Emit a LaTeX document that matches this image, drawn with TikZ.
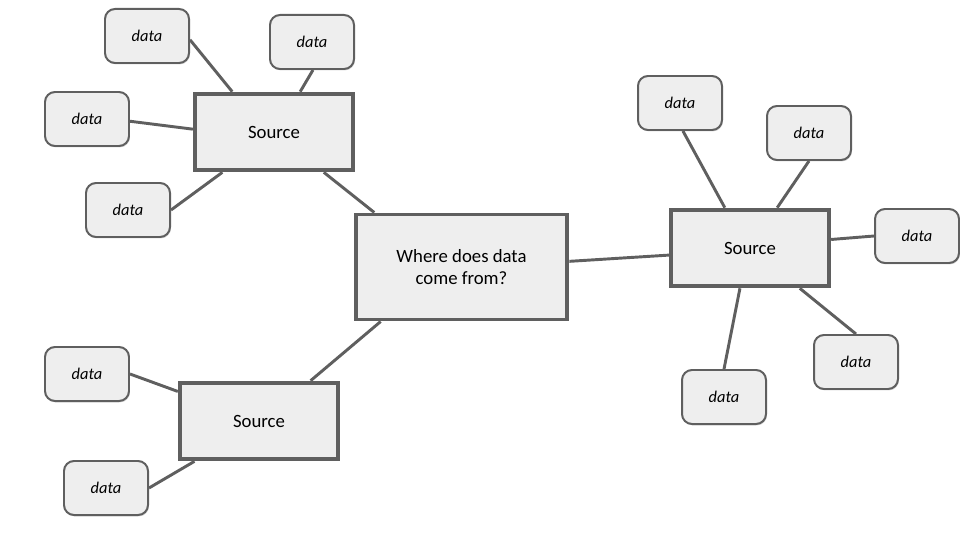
\documentclass[tikz,border=0pt]{standalone}
\usepackage{fontspec}
\setmainfont{Carlito}
\usetikzlibrary{shadows}
\definecolor{boxfill}{HTML}{EEEEEE}
\definecolor{boxline}{HTML}{5F5F5F}
\tikzset{
  src/.style={draw=boxline, fill=boxfill, line width=3.4pt, minimum width=4.75cm, minimum height=2.3cm,
    inner sep=0pt, align=center, font=\fontsize{16}{19}\selectfont,
    drop shadow={shadow xshift=0.8pt, shadow yshift=-1.2pt, opacity=0.3}},
  dat/.style={draw=boxline, fill=boxfill, line width=1.7pt, rounded corners=0.3cm, minimum width=2.52cm,
    minimum height=1.62cm, inner sep=0pt, font=\fontsize{14}{17}\selectfont\itshape,
    drop shadow={shadow xshift=0.8pt, shadow yshift=-1.2pt, opacity=0.3}},
  link/.style={draw=boxline, line width=2.5pt}
}
\begin{document}
\begin{tikzpicture}[x=0.03cm, y=-0.03cm]
    \useasboundingbox (0,0) rectangle (960,540);

    \node[src, minimum width=6.35cm, minimum height=3.15cm] (q) at (461.5,267) {Where does data\\come from?};
    \node[src] (s1) at (274,132) {Source};
    \node[src] (s2) at (259,421) {Source};
    \node[src] (s3) at (750,248) {Source};

    \node[dat] (d1) at (147,36) {data};
    \node[dat] (d2) at (312,42) {data};
    \node[dat] (d3) at (87,119) {data};
    \node[dat] (d4) at (128,210) {data};
    \node[dat] (d5) at (87,374) {data};
    \node[dat] (d6) at (106,488) {data};
    \node[dat] (d7) at (680,103) {data};
    \node[dat] (d8) at (809,133) {data};
    \node[dat] (d9) at (917,236) {data};
    \node[dat] (d10) at (856,362) {data};
    \node[dat] (d11) at (724,397) {data};

    \draw[link] (q.148) -- (s1.321);
    \draw[link] (q.214) -- (s2.38);
    \draw[link] (q.3) -- (s3.185);

    \draw[link] (d1.355) -- (s1.136);
    \draw[link] (d2.272) -- (s1.57);
    \draw[link] (d3.357) -- (s1.178);
    \draw[link] (d4.east) -- (s1.218);

    \draw[link] (d5.east) -- (s2.160);
    \draw[link] (d6.east) -- (s2.212);

    \draw[link] (d7.276) -- (s3.122);
    \draw[link] (d8.south) -- (s3.56);
    \draw[link] (d9.west) -- (s3.6);
    \draw[link] (d10.north) -- (s3.321);
    \draw[link] (d11.north) -- (s3.256);
\end{tikzpicture}
\end{document}
